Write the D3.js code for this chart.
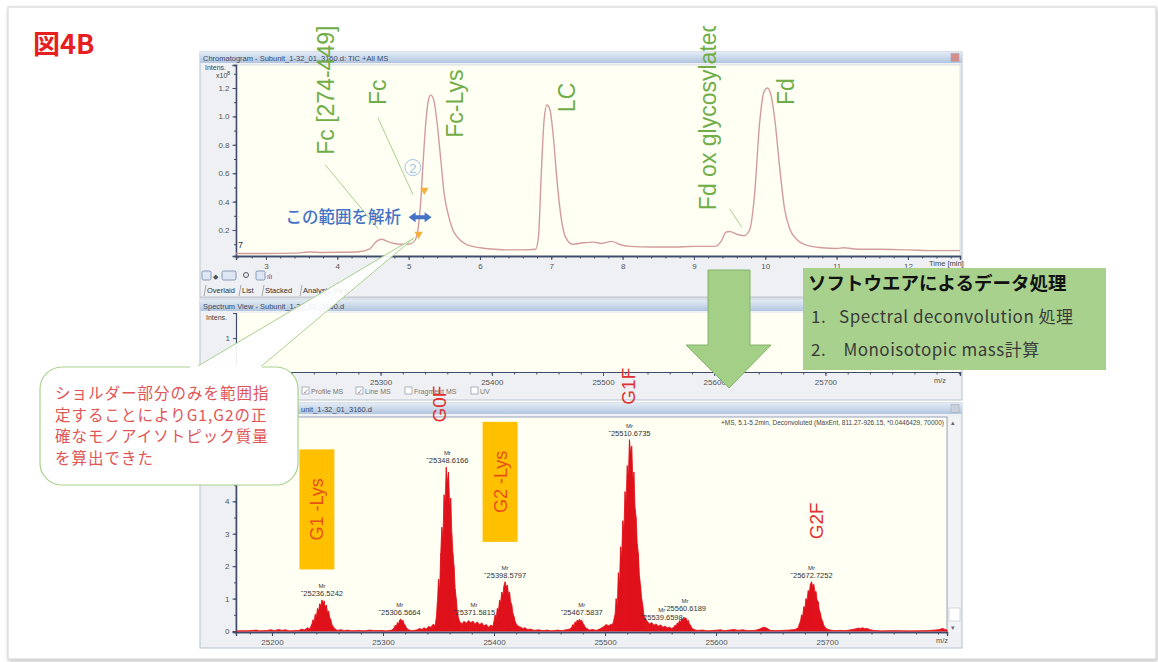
<!DOCTYPE html>
<html>
<head>
<meta charset="utf-8">
<script src="https://cdn.jsdelivr.net/npm/d3@7"></script>
<style>
body { margin: 0; background: #fff; }
text { font-family: "Liberation Sans", Arial, sans-serif; }
</style>
</head>
<body>
<script>
// --- chromatogram (TIC), time in min, intensity x10^8
var chromTime = [2.58, 3.0, 3.4, 3.6, 3.8, 4.0, 4.3, 4.45, 4.55, 4.62, 4.7, 4.8, 4.9, 5.0, 5.08, 5.13, 5.17, 5.2, 5.24, 5.28, 5.31, 5.35, 5.4, 5.45, 5.5, 5.56, 5.62, 5.7, 5.8, 6.0, 6.2, 6.4, 6.6, 6.78, 6.82, 6.86, 6.9, 6.94, 6.98, 7.03, 7.08, 7.14, 7.2, 7.3, 7.45, 7.6, 7.7, 7.85, 7.95, 8.1, 8.4, 8.7, 9.0, 9.3, 9.38, 9.45, 9.5, 9.6, 9.7, 9.78, 9.85, 9.92, 9.98, 10.03, 10.08, 10.14, 10.2, 10.27, 10.35, 10.45, 10.6, 10.8, 11.0, 11.1, 11.3, 11.6, 12.0, 12.4, 12.73];
var chromInt = [0.035, 0.035, 0.037, 0.045, 0.042, 0.043, 0.047, 0.065, 0.12, 0.135, 0.12, 0.105, 0.1, 0.1, 0.12, 0.2, 0.4, 0.65, 0.95, 1.12, 1.15, 1.12, 0.95, 0.7, 0.45, 0.3, 0.2, 0.14, 0.1, 0.075, 0.065, 0.06, 0.06, 0.065, 0.15, 0.6, 0.98, 1.08, 1.05, 0.85, 0.55, 0.28, 0.15, 0.1, 0.11, 0.115, 0.105, 0.12, 0.1, 0.085, 0.08, 0.08, 0.085, 0.085, 0.12, 0.185, 0.19, 0.17, 0.16, 0.2, 0.45, 0.95, 1.17, 1.2, 1.15, 0.95, 0.65, 0.35, 0.2, 0.13, 0.09, 0.075, 0.07, 0.075, 0.065, 0.065, 0.06, 0.055, 0.055];
var chromTicks = [3, 4, 5, 6, 7, 8, 9, 10, 11, 12];
var chromYTicks = [0.2, 0.4, 0.6, 0.8, 1.0, 1.2];

var chromLabels = ["Fc [274-449]", "Fc", "Fc-Lys", "LC", "Fd ox glycosylated", "Fd"];
var chromLabelTime = [3.83, 4.57, 5.65, 7.22, 9.19, 10.28];
var chromLabelInt = [0.73, 1.08, 0.85, 1.03, 0.34, 1.08];
// leader lines: [time0, int0, time1, int1]
var chromLeaders = [[3.83, 0.66, 4.57, 0.21], [4.57, 0.99, 5.06, 0.45], [9.5, 0.35, 9.67, 0.22]];

// --- deconvoluted spectrum, m/z and intensity
var specMz = [25168, 25180, 25186, 25189, 25196, 25199, 25202, 25206, 25209, 25212, 25216, 25224, 25227, 25229, 25232, 25234, 25236, 25237, 25238, 25239, 25240, 25241, 25242, 25243, 25244, 25245, 25246, 25247, 25248, 25249, 25250, 25251, 25252, 25253, 25254, 25255, 25257, 25259, 25262, 25265, 25268, 25272, 25278, 25283, 25288, 25293, 25298, 25303, 25308, 25310, 25311, 25312, 25313, 25314, 25315, 25316, 25317, 25318, 25319, 25320, 25321, 25323, 25326, 25330, 25333, 25335, 25337, 25339, 25341, 25343, 25345, 25347, 25348, 25349, 25350, 25351, 25352, 25353, 25354, 25355, 25356, 25357, 25358, 25359, 25360, 25361, 25362, 25363, 25364, 25365, 25366, 25367, 25368, 25369, 25371, 25373, 25375, 25377, 25379, 25381, 25383, 25385, 25387, 25389, 25391, 25393, 25395, 25397, 25399, 25400, 25401, 25402, 25403, 25404, 25405, 25406, 25407, 25408, 25409, 25410, 25411, 25412, 25413, 25414, 25415, 25416, 25417, 25418, 25419, 25420, 25422, 25424, 25426, 25428, 25430, 25433, 25436, 25440, 25444, 25448, 25452, 25457, 25461, 25465, 25468, 25470, 25471, 25472, 25473, 25474, 25475, 25476, 25477, 25478, 25479, 25480, 25481, 25482, 25484, 25486, 25489, 25492, 25495, 25497, 25499, 25501, 25503, 25505, 25507, 25509, 25510, 25511, 25512, 25513, 25514, 25515, 25516, 25517, 25518, 25519, 25520, 25521, 25522, 25523, 25524, 25525, 25526, 25527, 25528, 25529, 25530, 25531, 25532, 25533, 25534, 25535, 25536, 25538, 25540, 25542, 25544, 25546, 25548, 25550, 25552, 25554, 25556, 25558, 25560, 25562, 25563, 25564, 25565, 25566, 25567, 25568, 25569, 25570, 25571, 25572, 25573, 25574, 25575, 25576, 25577, 25578, 25580, 25583, 25588, 25592, 25598, 25604, 25607, 25612, 25616, 25620, 25624, 25628, 25635, 25639, 25641, 25643, 25645, 25647, 25649, 25654, 25660, 25666, 25671, 25674, 25675, 25676, 25677, 25678, 25679, 25680, 25681, 25682, 25683, 25684, 25685, 25686, 25687, 25688, 25689, 25690, 25691, 25692, 25693, 25694, 25695, 25696, 25697, 25698, 25700, 25703, 25707, 25712, 25716, 25720, 25723, 25726, 25728, 25730, 25732, 25734, 25736, 25739, 25742, 25748, 25760, 25775, 25790, 25800, 25804, 25808];
var specInt = [0, 0.01, 0.03, 0, 0.02, 0.04, 0.01, 0.05, 0.02, 0.04, 0, 0.02, 0.06, 0.03, 0.1, 0.07, 0.22, 0.35, 0.3, 0.52, 0.45, 0.7, 0.62, 0.84, 0.78, 0.96, 0.86, 0.93, 0.74, 0.8, 0.58, 0.62, 0.42, 0.35, 0.2, 0.14, 0.06, 0.02, 0.04, 0.01, 0.03, 0, 0.02, 0, 0.03, 0.01, 0.02, 0, 0.03, 0.1, 0.18, 0.14, 0.26, 0.22, 0.34, 0.37, 0.3, 0.33, 0.22, 0.18, 0.1, 0.04, 0.01, 0.03, 0.08, 0.05, 0.1, 0.06, 0.14, 0.12, 0.2, 0.18, 0.4, 0.9, 1.6, 1.3, 2.4, 3.2, 2.9, 4.2, 4.0, 5.05, 4.6, 4.9, 3.9, 4.1, 3.0, 2.4, 2.0, 1.3, 1.0, 0.6, 0.4, 0.3, 0.22, 0.3, 0.24, 0.32, 0.26, 0.3, 0.22, 0.28, 0.2, 0.25, 0.16, 0.2, 0.12, 0.18, 0.15, 0.3, 0.5, 0.42, 0.7, 0.65, 0.95, 0.9, 1.2, 1.1, 1.4, 1.52, 1.35, 1.42, 1.15, 1.2, 0.9, 0.8, 0.55, 0.45, 0.3, 0.22, 0.15, 0.12, 0.08, 0.1, 0.05, 0.06, 0.02, 0.04, 0.01, 0.03, 0, 0.03, 0.01, 0.04, 0.06, 0.12, 0.2, 0.16, 0.28, 0.25, 0.34, 0.3, 0.37, 0.3, 0.33, 0.24, 0.2, 0.12, 0.07, 0.03, 0.05, 0.02, 0.06, 0.1, 0.14, 0.2, 0.16, 0.2, 0.22, 0.5, 1.0, 0.8, 1.8, 1.5, 2.6, 2.3, 3.4, 3.1, 4.3, 4.0, 5.1, 4.8, 5.9, 5.5, 5.7, 4.7, 4.9, 3.8, 3.5, 2.7, 2.4, 1.7, 1.4, 1.0, 0.8, 0.5, 0.4, 0.3, 0.22, 0.26, 0.18, 0.22, 0.15, 0.19, 0.12, 0.15, 0.1, 0.12, 0.08, 0.12, 0.18, 0.15, 0.25, 0.22, 0.32, 0.28, 0.38, 0.34, 0.43, 0.38, 0.4, 0.3, 0.33, 0.22, 0.18, 0.1, 0.05, 0.02, 0.03, 0, 0.02, 0.04, 0.01, 0.03, 0.05, 0.02, 0.04, 0.01, 0.02, 0.06, 0.09, 0.12, 0.1, 0.06, 0.02, 0.01, 0.02, 0.03, 0.05, 0.1, 0.22, 0.3, 0.5, 0.45, 0.75, 0.7, 1.0, 0.95, 1.25, 1.2, 1.45, 1.52, 1.38, 1.44, 1.2, 1.22, 0.95, 0.9, 0.65, 0.55, 0.38, 0.3, 0.18, 0.12, 0.06, 0.03, 0.01, 0.02, 0.01, 0.03, 0.05, 0.07, 0.09, 0.08, 0.1, 0.07, 0.08, 0.04, 0.02, 0, 0.01, 0, 0.01, 0.04, 0.08, 0.03];
var specTicks = [25200, 25300, 25400, 25500, 25600, 25700];
var specYTicks = [0, 1, 2, 3, 4];

// peak mass labels (Mr), placed above apex
var peakMass = ["25236.5242", "25306.5664", "25348.6166", "25371.5815", "25398.5797", "25467.5837", "25510.6735", "25539.6598", "25560.6189", "25672.7252"];
var peakMz = [25245, 25315, 25358, 25382, 25410, 25479, 25522, 25551, 25572, 25686];
var peakInt = [0.96, 0.37, 5.05, 0.37, 1.52, 0.37, 5.9, 0.22, 0.5, 1.52];

var glycoLabels = ["G0F", "G1F", "G2F"];
var glycoMz = [25351, 25522, 25691];
var glycoInt = [7.0, 7.55, 3.4];
var lysLabels = ["G1 -Lys", "G2 -Lys"];
var lysMz = [25240, 25405];
var lysInt = [3.75, 4.6];

var tabLabels = ["Overlaid", "List", "Stacked", "Analysis View"];
var checkLabels = ["Profile MS", "Line MS", "Fragment MS", "UV"];
var calloutLines = ["ショルダー部分のみを範囲指", "定することによりG1,G2の正", "確なモノアイソトピック質量", "を算出できた"];
var boxLines = ["1.   Spectral deconvolution 処理", "2.    Monoisotopic mass計算"];

var svg = d3.select("body").append("svg").attr("width", 1158).attr("height", 662);
var defs = svg.append("defs");
var grad = defs.append("linearGradient").attr("id", "tbar").attr("x1", 0).attr("y1", 0).attr("x2", 0).attr("y2", 1);
grad.append("stop").attr("offset", "0%").attr("stop-color", "#e2ebf6");
grad.append("stop").attr("offset", "100%").attr("stop-color", "#b2c6df");
defs.append("clipPath").attr("id", "clipTop").append("rect").attr("x", 0).attr("y", 26).attr("width", 1158).attr("height", 640);
var sh = defs.append("filter").attr("id", "shadow").attr("x", "-5%").attr("y", "-5%").attr("width", "110%").attr("height", "110%");
sh.append("feDropShadow").attr("dx", 1).attr("dy", 2).attr("stdDeviation", 2).attr("flood-color", "#000").attr("flood-opacity", 0.25);

// slide frame
svg.append("rect").attr("x", 8).attr("y", 7).attr("width", 1148).attr("height", 652)
  .attr("fill", "#fff").attr("stroke", "#d0d0d0").attr("filter", "url(#shadow)");

svg.append("text").attr("x", 33).attr("y", 54)
  .style("font-family", "'Noto Sans CJK JP'").style("font-size", "27px").style("font-weight", "bold")
  .attr("fill", "#e62020").text("図4B");

function titleBar(y0, label, x0) {
  svg.append("rect").attr("x", 200).attr("y", y0).attr("width", 762).attr("height", 11).attr("fill", "url(#tbar)");
  svg.append("text").attr("x", x0).attr("y", y0 + 8.5)
    .style("font-size", "7.5px").attr("fill", "#3a4a66").text(label);
  svg.append("rect").attr("x", 951).attr("y", y0 + 1.5).attr("width", 8).attr("height", 8)
    .attr("fill", y0 < 100 ? "#d98c8c" : "#c8d0da").attr("stroke", "#9aa4b0").attr("stroke-width", 0.5);
}

// ---------- chromatogram window ----------
svg.append("rect").attr("x", 200).attr("y", 52).attr("width", 762).attr("height", 246).attr("fill", "#eef0f3").attr("stroke", "#b8c2ce");
titleBar(52, "Chromatogram - Subunit_1-32_01_3160.d: TIC +All MS", 203);
var cx = d3.scaleLinear().domain([2.58, 12.73]).range([236, 960]);
var cy = d3.scaleLinear().domain([0.017, 1.362]).range([256, 65]);
svg.append("rect").attr("x", 236).attr("y", 65).attr("width", 724).attr("height", 191).attr("fill", "#fffff4").attr("stroke", "#c7ccd4").attr("stroke-width", 0.6);

var cxAxis = svg.append("g").attr("transform", "translate(0,256)")
  .call(d3.axisBottom(cx).tickValues(d3.range(2.6, 12.75, 0.2)).tickSize(2.5).tickFormat(""));
var cxLab = svg.append("g").attr("transform", "translate(0,256)")
  .call(d3.axisBottom(cx).tickValues(chromTicks).tickSize(4).tickFormat(d3.format("d")));
var cyAxis = svg.append("g").attr("transform", "translate(236,0)")
  .call(d3.axisLeft(cy).tickValues(d3.range(0.1, 1.35, 0.1)).tickSize(2).tickFormat(""));
var cyLab = svg.append("g").attr("transform", "translate(236,0)")
  .call(d3.axisLeft(cy).tickValues(chromYTicks).tickSize(3.5).tickFormat(d3.format(".1f")));
[cxAxis, cxLab, cyAxis, cyLab].forEach(function(g) {
  g.select(".domain").attr("stroke", "#3e4c6a").attr("stroke-width", 1.3);
  g.selectAll("line").attr("stroke", "#3e4c6a");
  g.selectAll("text").style("font-size", "8px").attr("fill", "#555");
});
svg.append("text").attr("x", 929).attr("y", 266).style("font-size", "7.5px").attr("fill", "#444").text("Time [min]");
svg.append("text").attr("x", 205).attr("y", 70).style("font-size", "7px").attr("fill", "#444").text("Intens.");
svg.append("text").attr("x", 216).attr("y", 78).style("font-size", "7px").attr("fill", "#444").text("x10");
svg.append("text").attr("x", 227).attr("y", 75).style("font-size", "5.5px").attr("fill", "#444").text("8");
svg.append("text").attr("x", 238).attr("y", 248).style("font-size", "9px").attr("fill", "#333").text("7");

var line = d3.line().x(function(d) { return cx(d[0]); }).y(function(d) { return cy(d[1]); }).curve(d3.curveMonotoneX);
svg.append("path").datum(d3.zip(chromTime, chromInt)).attr("d", line)
  .attr("fill", "none").attr("stroke", "#d29c9c").attr("stroke-width", 1.4);

// toolbar + tabs
var tb = svg.append("g");
[[202, 9], [222, 14], [256, 9]].forEach(function(b) {
  tb.append("rect").attr("x", b[0]).attr("y", 271).attr("width", b[1]).attr("height", 9).attr("rx", 1.5)
    .attr("fill", "#dde6f2").attr("stroke", "#6f86a8").attr("stroke-width", 0.8);
});
tb.append("text").attr("x", 213).attr("y", 279).style("font-size", "7px").attr("fill", "#556").text("◆");
tb.append("circle").attr("cx", 246).attr("cy", 275).attr("r", 2.5).attr("fill", "none").attr("stroke", "#556");
tb.append("text").attr("x", 267).attr("y", 279).style("font-size", "7px").attr("fill", "#c03030").text("ılı");
svg.append("line").attr("x1", 200).attr("x2", 962).attr("y1", 297).attr("y2", 297).attr("stroke", "#c0c6ce");
var tabX = [204, 239, 262, 300];
tabLabels.forEach(function(t, i) {
  tb.append("text").attr("x", tabX[i] + 3).attr("y", 293).style("font-size", "7.5px").attr("fill", "#333").text(t);
  tb.append("path").attr("d", "M" + tabX[i] + ",296 L" + (tabX[i] + 2) + ",285")
    .attr("stroke", "#888").attr("fill", "none").attr("stroke-width", 0.7);
});

// ---------- spectrum view window ----------
svg.append("rect").attr("x", 200).attr("y", 300).attr("width", 762).attr("height", 100).attr("fill", "#eef0f3").attr("stroke", "#b8c2ce");
titleBar(300, "Spectrum View - Subunit_1-32_01_3160.d", 203);
var mx = d3.scaleLinear().domain([25170, 25821]).range([236, 960]);
var my = d3.scaleLinear().domain([0, 1.74]).range([372, 313]);
svg.append("rect").attr("x", 236).attr("y", 313).attr("width", 724).attr("height", 59).attr("fill", "#fffff4");
var mxAxis = svg.append("g").attr("transform", "translate(0,372)")
  .call(d3.axisBottom(mx).tickValues(d3.range(25180, 25821, 20)).tickSize(2.5).tickFormat(""));
var mxLab = svg.append("g").attr("transform", "translate(0,372)")
  .call(d3.axisBottom(mx).tickValues(specTicks.slice(1)).tickSize(4).tickFormat(d3.format("d")));
var myAxis = svg.append("g").attr("transform", "translate(236,0)")
  .call(d3.axisLeft(my).tickValues([1]).tickSize(3).tickFormat(d3.format("d")));
[mxAxis, mxLab, myAxis].forEach(function(g) {
  g.select(".domain").attr("stroke", "#3e4c6a").attr("stroke-width", 1.2);
  g.selectAll("line").attr("stroke", "#3e4c6a");
  g.selectAll("text").style("font-size", "8px").attr("fill", "#555");
});
svg.append("text").attr("x", 206).attr("y", 320).style("font-size", "7px").attr("fill", "#444").text("Intens.");
svg.append("text").attr("x", 934).attr("y", 383).style("font-size", "7.5px").attr("fill", "#555").text("m/z");
var chkX = [302, 356, 405, 471];
checkLabels.forEach(function(t, i) {
  svg.append("rect").attr("x", chkX[i]).attr("y", 387).attr("width", 7).attr("height", 7)
    .attr("fill", "#fff").attr("stroke", "#8a96a6").attr("stroke-width", 0.7);
  if (i < 2) svg.append("text").attr("x", chkX[i] + 1).attr("y", 393.5).style("font-size", "7px").attr("fill", "#889").text("✓");
  svg.append("text").attr("x", chkX[i] + 9).attr("y", 394).style("font-size", "7px").attr("fill", "#777").text(t);
});

// ---------- deconvoluted spectrum window ----------
svg.append("rect").attr("x", 200).attr("y", 403).attr("width", 762).attr("height", 245).attr("fill", "#eef0f3").attr("stroke", "#b8c2ce");
titleBar(403, "unit_1-32_01_3160.d", 301);
var bx = d3.scaleLinear().domain([25167.6, 25808]).range([236, 947]);
var by = d3.scaleLinear().domain([-0.03, 6.6]).range([632, 417]);
svg.append("rect").attr("x", 236).attr("y", 417).attr("width", 711).attr("height", 215).attr("fill", "#fffff4")
  .attr("stroke", "#7d8cab").attr("stroke-width", 0.8);
// scrollbar
svg.append("rect").attr("x", 949).attr("y", 417).attr("width", 11).attr("height", 215).attr("fill", "#f2f3f5");
svg.append("rect").attr("x", 949).attr("y", 608).attr("width", 11).attr("height", 13).attr("fill", "#fff").attr("stroke", "#b8c0ca").attr("stroke-width", 0.6);
svg.append("text").attr("x", 951).attr("y", 425).style("font-size", "7px").attr("fill", "#667").text("▴");
svg.append("text").attr("x", 951).attr("y", 630).style("font-size", "7px").attr("fill", "#667").text("▾");

var bxAxis = svg.append("g").attr("transform", "translate(0,632)")
  .call(d3.axisBottom(bx).tickValues(d3.range(25180, 25808, 20)).tickSize(2.5).tickFormat(""));
var bxLab = svg.append("g").attr("transform", "translate(0,632)")
  .call(d3.axisBottom(bx).tickValues(specTicks).tickSize(4).tickFormat(d3.format("d")));
var byAxis = svg.append("g").attr("transform", "translate(236,0)")
  .call(d3.axisLeft(by).tickValues(d3.range(0, 6.6, 0.5)).tickSize(2).tickFormat(""));
var byLab = svg.append("g").attr("transform", "translate(236,0)")
  .call(d3.axisLeft(by).tickValues(specYTicks).tickSize(3.5).tickFormat(d3.format("d")));
[bxAxis, bxLab, byAxis, byLab].forEach(function(g) {
  g.select(".domain").attr("stroke", "#3e4c6a").attr("stroke-width", 1.3);
  g.selectAll("line").attr("stroke", "#3e4c6a");
  g.selectAll("text").style("font-size", "8px").attr("fill", "#555");
});
svg.append("text").attr("x", 936).attr("y", 643).style("font-size", "7.5px").attr("fill", "#555").text("m/z");
svg.append("text").attr("x", 944).attr("y", 425).attr("text-anchor", "end").style("font-size", "6.5px").attr("fill", "#444")
  .text("+MS, 5.1-5.2min, Deconvoluted (MaxEnt, 811.27-926.15, *0.0446429, 70000)");

var spec = d3.zip(specMz, specInt);
var area = d3.area().x(function(d) { return bx(d[0]); }).y0(by(0)).y1(function(d) { return by(d[1]); });
svg.append("path").datum(spec).attr("d", area).attr("fill", "#e8161f").attr("stroke", "#e8161f").attr("stroke-width", 0.8);
svg.selectAll("line.spike").data(spec).enter().append("line").attr("class", "spike")
  .attr("x1", function(d) { return bx(d[0]); }).attr("x2", function(d) { return bx(d[0]); })
  .attr("y1", by(0)).attr("y2", function(d) { return by(d[1]); })
  .attr("stroke", "#d8101a").attr("stroke-width", 0.7);

var pk = svg.append("g");
peakMass.forEach(function(m, i) {
  var x = bx(peakMz[i]), y = by(peakInt[i]);
  pk.append("text").attr("x", x).attr("y", y - 12).attr("text-anchor", "middle").style("font-size", "6px").attr("fill", "#333").text("Mr");
  pk.append("text").attr("x", x).attr("y", y - 4).attr("text-anchor", "middle").style("font-size", "7.5px").attr("fill", "#333").text("\u02c7" + m);
});

// glycoform labels
glycoLabels.forEach(function(t, i) {
  svg.append("text").attr("transform", "translate(" + (bx(glycoMz[i]) + 6) + "," + by(glycoInt[i]) + ") rotate(-90)")
    .attr("text-anchor", "middle").style("font-size", "19px").attr("fill", "#e03030").text(t);
});
lysLabels.forEach(function(t, i) {
  var x = bx(lysMz[i]), y = by(lysInt[i]);
  svg.append("rect").attr("x", x - 17).attr("y", y - 60).attr("width", 35).attr("height", 120).attr("fill", "#ffc000");
  svg.append("text").attr("transform", "translate(" + (x + 7) + "," + y + ") rotate(-90)")
    .attr("text-anchor", "middle").style("font-size", "18px").attr("fill", "#e8501a").text(t);
});

// ---------- green arrow and processing box ----------
svg.append("path").attr("d", "M708,270 L750,270 L750,345 L771,345 L729,388 L686,345 L708,345 Z")
  .attr("fill", "#a3cf86").attr("stroke", "#86b36a").attr("stroke-width", 1);
svg.append("rect").attr("x", 803).attr("y", 268).attr("width", 303).attr("height", 102).attr("fill", "#a9d18e");
svg.append("text").attr("x", 808).attr("y", 290).style("font-family", "'Noto Sans CJK JP'").style("font-size", "18.5px")
  .style("font-weight", "bold").attr("fill", "#111").text("ソフトウエアによるデータ処理");
boxLines.forEach(function(t, i) {
  svg.append("text").attr("x", 811).attr("y", 323 + i * 33).style("font-family", "'Noto Sans CJK JP'")
    .style("font-size", "17px").style("letter-spacing", "0.5px").attr("fill", "#3a3a3a")
    .style("white-space", "pre").text(t);
});

// ---------- chromatogram annotations ----------
var ann = svg.append("g").attr("clip-path", "url(#clipTop)");
chromLeaders.forEach(function(l) {
  ann.append("line").attr("x1", cx(l[0])).attr("y1", cy(l[1])).attr("x2", cx(l[2])).attr("y2", cy(l[3]))
    .attr("stroke", "#a9d18e").attr("stroke-width", 1);
});
chromLabels.forEach(function(t, i) {
  ann.append("text").attr("transform", "translate(" + (cx(chromLabelTime[i]) + 8.5) + "," + cy(chromLabelInt[i]) + ") rotate(-90)")
    .style("font-size", "23px").attr("fill", "#70ad47").text(t);
});
svg.append("circle").attr("cx", cx(5.06)).attr("cy", cy(0.64)).attr("r", 8).attr("fill", "none").attr("stroke", "#9dc3e6").attr("stroke-width", 1);
svg.append("text").attr("x", cx(5.06)).attr("y", cy(0.64) + 5).attr("text-anchor", "middle").style("font-size", "13px").attr("fill", "#9dc3e6").text("2");
svg.append("path").attr("d", d3.symbol(d3.symbolTriangle, 30)).attr("transform", "translate(" + cx(5.22) + "," + cy(0.48) + ") rotate(180)").attr("fill", "#f4b13a");
svg.append("path").attr("d", d3.symbol(d3.symbolTriangle, 30)).attr("transform", "translate(" + cx(5.14) + "," + cy(0.17) + ") rotate(180)").attr("fill", "#f4b13a");
var ay = cy(0.29);
svg.append("path").attr("d", "M" + (cx(5.0)) + "," + ay + " l7,-5 l0,3 l9,0 l0,-3 l7,5 l-7,5 l0,-3 l-9,0 l0,3 z").attr("fill", "#4472c4");
svg.append("text").attr("x", 401).attr("y", ay + 5.5).attr("text-anchor", "end").style("font-family", "'Noto Sans CJK JP'")
  .style("font-size", "16.5px").style("font-weight", "500").attr("fill", "#4472c4").text("この範囲を解析");

// ---------- callout ----------
svg.append("path").attr("d", "M193,369 L414,238 L258,369 Z").attr("fill", "#fff").attr("fill-opacity", 0.92)
  .attr("stroke", "#a9d18e").attr("stroke-width", 1);
svg.append("rect").attr("x", 40).attr("y", 367).attr("width", 258).attr("height", 118).attr("rx", 22)
  .attr("fill", "#fff").attr("stroke", "#a9d18e").attr("stroke-width", 1.2);
svg.append("rect").attr("x", 190).attr("y", 366).attr("width", 72).attr("height", 4).attr("fill", "#fff");
calloutLines.forEach(function(t, i) {
  svg.append("text").attr("x", 55).attr("y", 399 + i * 21.5).style("font-family", "'Noto Sans CJK JP'")
    .style("font-size", "15.5px").style("letter-spacing", "1px").attr("fill", "#e05555").text(t);
});
</script>
</body>
</html>
